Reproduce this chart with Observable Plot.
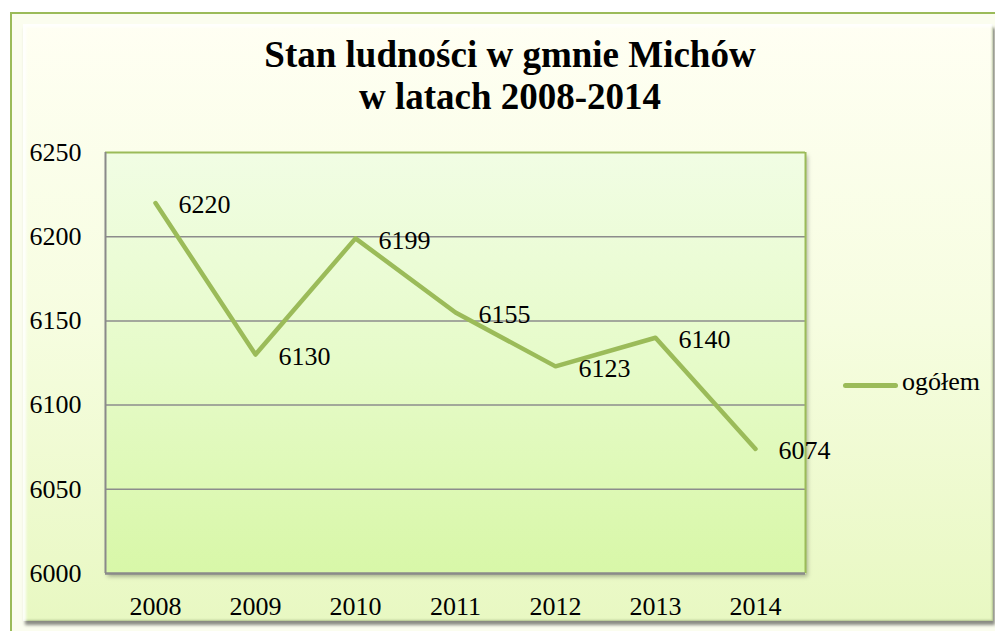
<!DOCTYPE html>
<html>
<head>
<meta charset="utf-8">
<script src="https://cdn.jsdelivr.net/npm/d3@7"></script>
<script src="https://cdn.jsdelivr.net/npm/@observablehq/plot@0.6"></script>
<style>
  html, body { margin: 0; padding: 0; background: #ffffff; font-family: 'Liberation Serif', 'Times New Roman', serif; }
  #page { position: relative; width: 995px; height: 631px; overflow: hidden; font-family: 'Liberation Serif', 'Times New Roman', serif; }
  #frame { position: absolute; left: 10px; top: 12px; width: 990px; height: 625px;
    border-left: 2px solid #9bbb59; border-top: 2px solid #9bbb59; background: #fbfdef; box-sizing: border-box; }
  #panel { position: absolute; left: 23px; top: 24px; width: 970px; height: 597px;
    background: linear-gradient(to bottom, #fffff3 0%, #f6fde0 50%, #e8f8c2 100%);
    box-shadow: 2px 4px 3px rgba(0,0,0,0.45), inset 3px 3px 3px rgba(255,255,255,0.9), inset -1px -1px 2px rgba(120,140,90,0.5); }
  #title { position: absolute; left: 0; top: 34px; width: 1020px; text-align: center;
    font-family: 'Liberation Serif', 'Times New Roman', serif;
    font-weight: bold; font-size: 37px; line-height: 42px; color: #000; }
  #chart { position: absolute; left: 0; top: 0; }
  #chart svg text { font-family: 'Liberation Serif', 'Times New Roman', serif; }
  #legend { position: absolute; left: 843px; top: 364px; font-size: 26px; color: #000; white-space: nowrap; line-height: 36px;
    font-family: 'Liberation Serif', 'Times New Roman', serif; }
  #legend .swatch { display: inline-block; width: 55px; height: 5px; background: #9bbb59; border-radius: 3px; vertical-align: middle; margin-right: 4px; position: relative; top: 1px; }
</style>
</head>
<body>
<div id="page">
  <div id="frame"></div>
  <div id="panel"></div>
  <div id="chart"></div>
  <div id="title">Stan ludności w gmnie Michów<br>w latach 2008-2014</div>
  <div id="legend"></div>
</div>
<script>
const years = [2008, 2009, 2010, 2011, 2012, 2013, 2014];
const values = [6220, 6130, 6199, 6155, 6123, 6140, 6074];
const yTicks = [6000, 6050, 6100, 6150, 6200, 6250];
const gridValues = [6050, 6100, 6150, 6200];
const seriesName = "ogółem";

const data = years.map((year, i) => ({year, value: values[i]}));
const xDomain = [years[0] - 0.5, years[years.length - 1] + 0.5];
const yDomain = [yTicks[0], yTicks[yTicks.length - 1]];

const green = "#9bbb59";
const gray = "#8a8a8a";
const serifFont = "Liberation Serif";

const svg = Plot.plot({
  width: 995,
  height: 631,
  marginLeft: 105,
  marginRight: 190,
  marginTop: 152,
  marginBottom: 58,
  style: {background: "transparent", fontFamily: serifFont, fontSize: "26px", color: "#000", overflow: "visible"},
  x: {domain: xDomain, axis: null},
  y: {domain: yDomain, axis: null},
  marks: [
    Plot.frame({fill: "url(#plotGrad)", stroke: "none"}),
    Plot.ruleY(gridValues, {stroke: "#8c8c8c", strokeWidth: 1.5}),
    Plot.ruleY([yDomain[1]], {stroke: green, strokeWidth: 2}),
    Plot.ruleX([xDomain[1]], {stroke: green, strokeWidth: 2}),
    Plot.ruleX([xDomain[0]], {stroke: gray, strokeWidth: 2}),
    Plot.ruleY([yDomain[0]], {stroke: gray, strokeWidth: 2.5}),
    Plot.axisY({ticks: yTicks, tickFormat: d => String(d), tickSize: 0, tickPadding: 24, fontSize: 26, fontFamily: serifFont, label: null, fill: "#000"}),
    Plot.axisX({ticks: years, tickFormat: d => String(d), tickSize: 0, tickPadding: 23, fontSize: 26, fontFamily: serifFont, label: null, fill: "#000"}),
    Plot.line(data, {x: "year", y: "value", stroke: green, strokeWidth: 4.5, strokeLinecap: "round", strokeLinejoin: "round"}),
    Plot.text(data, {x: "year", y: "value", text: d => String(d.value), textAnchor: "start", dx: 23, dy: 2, fontSize: 26, fontFamily: serifFont, fill: "#000"})
  ]
});

const defs = d3.select(svg).insert("defs", ":first-child");
const grad = defs.append("linearGradient").attr("id", "plotGrad").attr("x1", 0).attr("y1", 0).attr("x2", 0).attr("y2", 1);
grad.append("stop").attr("offset", "0%").attr("stop-color", "#f1fde4");
grad.append("stop").attr("offset", "50%").attr("stop-color", "#e6fbc9");
grad.append("stop").attr("offset", "100%").attr("stop-color", "#d8f7a8");
const filt = defs.append("filter").attr("id", "plotShadow").attr("x", "-5%").attr("y", "-5%").attr("width", "110%").attr("height", "110%");
filt.append("feDropShadow").attr("dx", 2).attr("dy", 3).attr("stdDeviation", 2).attr("flood-color", "#000").attr("flood-opacity", 0.3);
d3.select(svg).select("g[aria-label=frame], rect[aria-label=frame]").attr("filter", "url(#plotShadow)");

document.getElementById("chart").appendChild(svg);

const legend = document.getElementById("legend");
const sw = document.createElement("span");
sw.className = "swatch";
legend.appendChild(sw);
legend.appendChild(document.createTextNode(seriesName));
</script>
</body>
</html>
